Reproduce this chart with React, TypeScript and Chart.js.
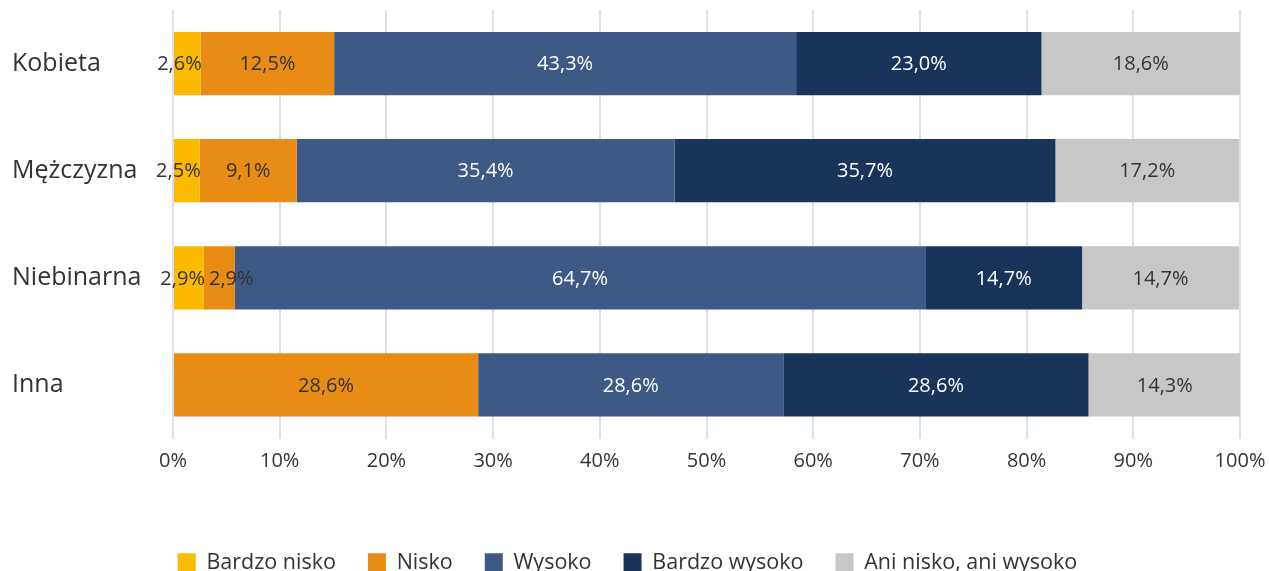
import React, { useEffect, useRef } from "react";
import { Chart, registerables } from "chart.js";

Chart.register(...registerables);

const categories = ["Kobieta", "Mężczyzna", "Niebinarna", "Inna"];
const seriesNames = ["Bardzo nisko", "Nisko", "Wysoko", "Bardzo wysoko", "Ani nisko, ani wysoko"];
const bardzoNisko = [2.6, 2.5, 2.9, 0];
const nisko = [12.5, 9.1, 2.9, 28.6];
const wysoko = [43.3, 35.4, 64.7, 28.6];
const bardzoWysoko = [23.0, 35.7, 14.7, 28.6];
const aniNisko = [18.6, 17.2, 14.7, 14.3];
const xTicks = [0, 10, 20, 30, 40, 50, 60, 70, 80, 90, 100];

const colors = ["#FBBA00", "#E88C16", "#3D5A87", "#19335A", "#C6C7C6"];
const labelColors = ["#333333", "#333333", "#ffffff", "#ffffff", "#333333"];
const FONT = "'Open Sans', 'Noto Sans', sans-serif";

const fmt = (v: number) => v.toFixed(1).replace(".", ",") + "%";

const dataLabelPlugin = {
  id: "dataLabels",
  afterDatasetsDraw(chart: any) {
    const ctx = chart.ctx;
    ctx.save();
    ctx.font = `20px ${FONT}`;
    ctx.textBaseline = "middle";
    chart.data.datasets.forEach((ds: any, di: number) => {
      const meta = chart.getDatasetMeta(di);
      meta.data.forEach((el: any, i: number) => {
        const v = ds.data[i];
        if (!v) return;
        const text = fmt(v);
        const w = ctx.measureText(text).width;
        const left = Math.min(el.x, el.base);
        const right = Math.max(el.x, el.base);
        ctx.fillStyle = labelColors[di];
        if (w + 4 > right - left) {
          if (di === 0) {
            ctx.textAlign = "right";
            ctx.fillText(text, right + 1, el.y + 1);
          } else {
            ctx.textAlign = "left";
            ctx.fillText(text, left + 5, el.y + 1);
          }
        } else {
          ctx.textAlign = "center";
          ctx.fillText(text, (left + right) / 2, el.y + 1);
        }
      });
    });
    ctx.restore();
  },
};

export default function App() {
  const ref = useRef<HTMLCanvasElement>(null);
  useEffect(() => {
    if (!ref.current) return;
    const seriesData = [bardzoNisko, nisko, wysoko, bardzoWysoko, aniNisko];
    const chart = new Chart(ref.current, {
      type: "bar",
      data: {
        labels: categories,
        datasets: seriesNames.map((name, i) => ({
          label: name,
          data: seriesData[i],
          backgroundColor: colors[i],
          borderWidth: 0,
          barPercentage: 0.59,
          categoryPercentage: 1,
        })),
      },
      options: {
        indexAxis: "y",
        animation: false,
        responsive: true,
        maintainAspectRatio: false,
        layout: { padding: { left: 12, right: 26, top: 4, bottom: 0 } },
        scales: {
          x: {
            stacked: true,
            min: 0,
            max: 100,
            afterBuildTicks: (scale: any) => {
              scale.ticks = xTicks.map((v) => ({ value: v }));
            },
            afterFit: (scale: any) => {
              scale.height = 82;
              scale.paddingRight = 29;
              scale.paddingLeft = 0;
            },
            ticks: {
              callback: (v: any) => v + "%",
              color: "#333333",
              font: { size: 20, family: FONT },
              padding: 11,
              maxRotation: 0,
            },
            grid: { color: "#D9E1EC", lineWidth: 2, drawTicks: false },
            border: { display: false },
          },
          y: {
            stacked: true,
            afterFit: (scale: any) => {
              scale.width = 161;
            },
            ticks: {
              crossAlign: "far",
              color: "#333333",
              font: { size: 25, family: FONT },
            },
            grid: { display: false },
            border: { display: false },
          },
        },
        plugins: {
          legend: {
            position: "bottom",
            labels: {
              boxWidth: 18,
              boxHeight: 20,
              padding: 32,
              color: "#333333",
              font: { size: 21.5, family: FONT },
            },
          },
          tooltip: { enabled: false },
        },
      },
      plugins: [dataLabelPlugin],
    } as any);
    return () => chart.destroy();
  }, []);
  return (
    <div style={{ position: "absolute", left: 0, top: 0, width: 1269, height: 571, overflow: "hidden", background: "#fff" }}>
      <div style={{ position: "absolute", left: 0, top: -8, width: 1269, height: 592 }}>
        <canvas ref={ref} />
      </div>
    </div>
  );
}
